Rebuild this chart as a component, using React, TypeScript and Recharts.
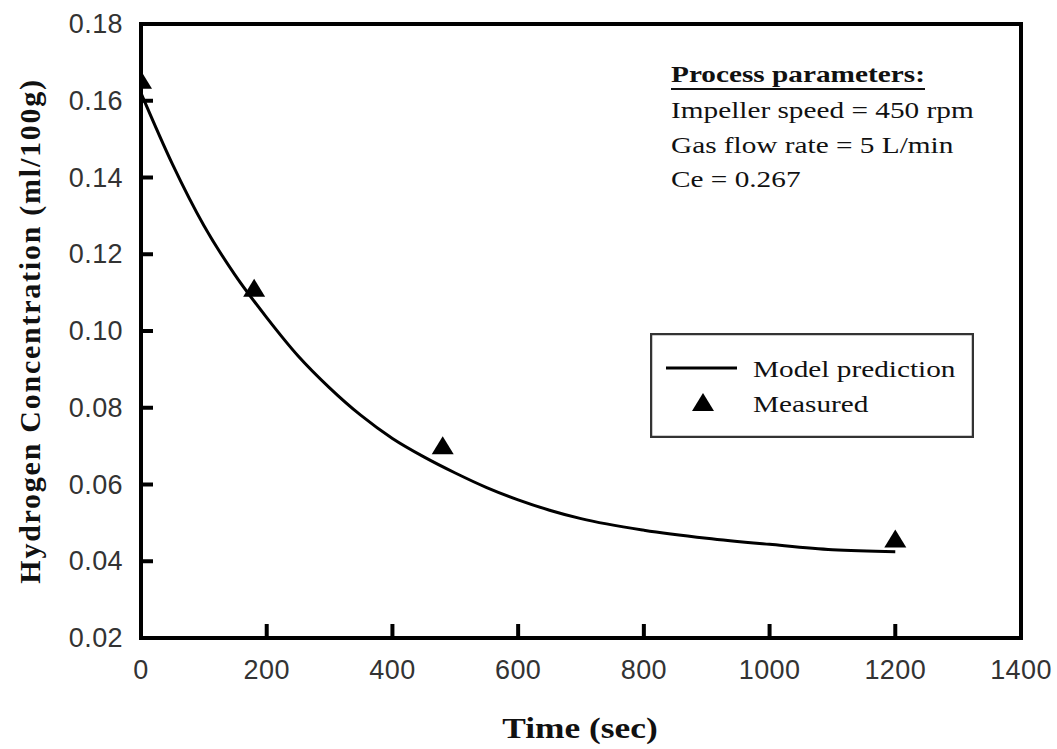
import React from "react";
import {
  ComposedChart,
  Line,
  Scatter,
  XAxis,
  YAxis,
  ReferenceArea,
  Legend,
  Customized,
} from "recharts";

// model curve
const modelTime = [0, 50, 100, 150, 200, 250, 300, 350, 400, 450, 500, 550, 600, 650, 700, 800, 900, 1000, 1100, 1200];
const modelConc = [
  0.162, 0.1435, 0.1275, 0.1145, 0.1035, 0.0935, 0.0852, 0.078, 0.072, 0.0672, 0.063, 0.0592, 0.056, 0.0533,
  0.0511, 0.0481, 0.046, 0.0444, 0.043, 0.0425,
];

// measured points
const measuredTime = [0, 180, 480, 1200];
const measuredConc = [0.1652, 0.111, 0.07, 0.0457];

const xTicks = [0, 200, 400, 600, 800, 1000, 1200, 1400];
const yTicks = [0.02, 0.04, 0.06, 0.08, 0.1, 0.12, 0.14, 0.16, 0.18];

const paramTitle = "Process parameters:";
const paramLines = ["Impeller speed = 450 rpm", "Gas flow rate = 5 L/min", "Ce = 0.267"];

const modelData = modelTime.map((t, i) => ({ t, c: modelConc[i] }));
const measuredData = measuredTime.map((t, i) => ({ t, c: measuredConc[i] }));

const SANS = "'Liberation Sans', Arial, sans-serif";
const SERIF = "'Liberation Serif', 'Times New Roman', serif";

// tick lines point inward (negative tickSize); labels placed from the axis line
const XTick = (props: any) => {
  const { x, y, payload } = props;
  return (
    <text x={x} y={Number(y) + 41} textAnchor="middle" fontFamily={SANS} fontSize={27} letterSpacing={0.4} fill="#333">
      {payload.value}
    </text>
  );
};

const YTick = (props: any) => {
  const { x, y, payload } = props;
  return (
    <text x={Number(x) - 18} y={Number(y) + 9} textAnchor="end" fontFamily={SANS} fontSize={27} letterSpacing={0.4} fill="#333">
      {Number(payload.value).toFixed(2)}
    </text>
  );
};

const Triangle = (props: any) => {
  const { cx, cy } = props;
  if (cx == null || cy == null) return null;
  return <polygon points={`${cx - 11},${cy + 8} ${cx + 11},${cy + 8} ${cx},${cy - 10}`} fill="#000" />;
};

const LegendBox = (props: any) => {
  const items = [...(props.payload || [])].sort((a: any, b: any) =>
    a.type === "line" ? -1 : b.type === "line" ? 1 : 0
  );
  return (
    <svg width={324} height={105} style={{ display: "block" }}>
      <rect x={1} y={1} width={322} height={103} fill="#fff" stroke="#333" strokeWidth={2.5} />
      {items.map((it: any, i: number) => {
        const cy = 35 + i * 35;
        return (
          <g key={it.value}>
            {it.type === "line" ? (
              <line x1={16} y1={cy} x2={87} y2={cy} stroke="#000" strokeWidth={3} />
            ) : (
              <Triangle cx={53} cy={cy} />
            )}
            <text
              transform={`translate(103,${cy + 9}) scale(1.22,1)`}
              fontFamily={SERIF}
              fontSize={24}
              fill="#111"
            >
              {it.value}
            </text>
          </g>
        );
      })}
    </svg>
  );
};

const Titles = () => (
  <g>
    <text
      transform="translate(40,331) rotate(-90)"
      textAnchor="middle"
      fontFamily={SERIF}
      fontWeight="bold"
      fontSize={30}
      letterSpacing={1.75}
      fill="#111"
    >
      Hydrogen Concentration (ml/100g)
    </text>
    <text
      transform="translate(580,738) scale(1.22,1)"
      textAnchor="middle"
      fontFamily={SERIF}
      fontWeight="bold"
      fontSize={29}
      fill="#111"
    >
      Time (sec)
    </text>
    <text
      transform="translate(671,82) scale(1.22,1)"
      fontFamily={SERIF}
      fontWeight="bold"
      fontSize={24}
      fill="#111"
    >
      {paramTitle}
    </text>
    <line x1={671} y1={89} x2={925} y2={89} stroke="#111" strokeWidth={2} />
    {paramLines.map((s, i) => (
      <text
        key={s}
        transform={`translate(671,${118 + i * 34.5}) scale(1.22,1)`}
        fontFamily={SERIF}
        fontSize={24}
        fill="#111"
      >
        {s}
      </text>
    ))}
  </g>
);

export default function App() {
  return (
    <div style={{ position: "absolute", left: 0, top: 0, background: "#fff" }}>
      <ComposedChart width={1057} height={749} margin={{ top: 24, right: 36, bottom: 51, left: 41 }}>
        <XAxis
          dataKey="t"
          type="number"
          domain={[0, 1400]}
          ticks={xTicks}
          tick={<XTick />}
          tickLine={{ stroke: "#000", strokeWidth: 4 }}
          tickSize={-14}
          tickMargin={14}
          axisLine={false}
          height={60}
          allowDataOverflow
        />
        <YAxis
          dataKey="c"
          type="number"
          domain={[0.02, 0.18]}
          ticks={yTicks}
          tick={<YTick />}
          tickLine={{ stroke: "#000", strokeWidth: 4 }}
          tickSize={-12}
          tickMargin={12}
          axisLine={false}
          width={100}
          allowDataOverflow
        />
        <ReferenceArea
          x1={0}
          x2={1400}
          y1={0.02}
          y2={0.18}
          fill="none"
          stroke="#000"
          strokeWidth={4}
          ifOverflow="visible"
        />
        <Line
          data={modelData}
          dataKey="c"
          name="Model prediction"
          type="monotone"
          stroke="#000"
          strokeWidth={3}
          dot={false}
          legendType="line"
          isAnimationActive={false}
        />
        <Scatter
          data={measuredData}
          dataKey="c"
          name="Measured"
          shape={<Triangle />}
          legendType="triangle"
          isAnimationActive={false}
        />
        <Legend
          layout="horizontal"
          verticalAlign="middle"
          align="center"
          content={<LegendBox />}
          wrapperStyle={{ left: 650, top: 333, width: 324, height: 105 }}
        />
        <Customized component={Titles} />
      </ComposedChart>
    </div>
  );
}
